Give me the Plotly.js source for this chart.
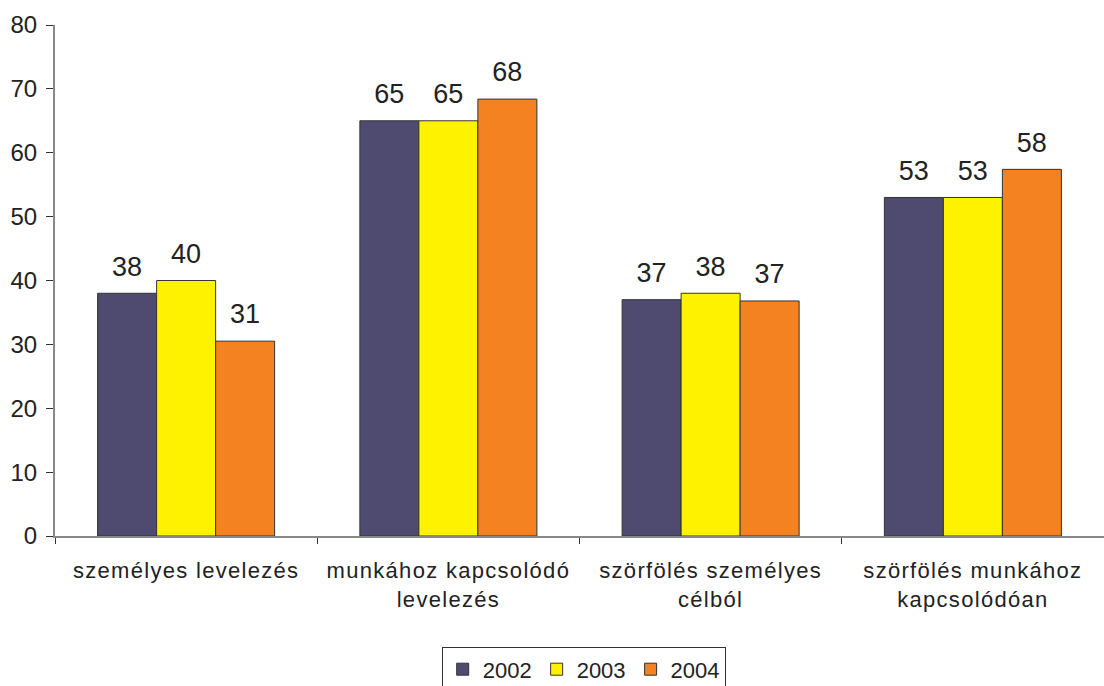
<!DOCTYPE html>
<html><head><meta charset="utf-8">
<script src="https://cdn.plot.ly/plotly-3.0.1.min.js"></script>
<style>
html,body{margin:0;padding:0;overflow:hidden;background:#fff;}
#chart .xtick text{letter-spacing:1.3px;}
</style>
</head><body>
<div id="chart" style="width:1104px;height:686px;"></div>
<script>
const categories = ["személyes levelezés", "munkához kapcsolódó<br>levelezés", "szörfölés személyes<br>célból", "szörfölés munkához<br>kapcsolódóan"];
const years = ["2002", "2003", "2004"];
const values2002 = [38, 65, 37, 53];
const values2003 = [40, 65, 38, 53];
const values2004 = [30.5, 68.4, 36.8, 57.4];
const labels2002 = ["38", "65", "37", "53"];
const labels2003 = ["40", "65", "38", "53"];
const labels2004 = ["31", "68", "37", "58"];
const colors = ["#4f4a70", "#fff200", "#f58220"];

const series = [values2002, values2003, values2004];
const labels = [labels2002, labels2003, labels2004];

const traces = [];
series.forEach((vals, i) => {
  traces.push({
    type: "bar", name: years[i], x: categories, y: vals,
    offsetgroup: String(i), alignmentgroup: "a",
    marker: {color: colors[i], line: {color: "#333333", width: 1}},
    hoverinfo: "skip"
  });
});
series.forEach((vals, i) => {
  traces.push({
    type: "scatter", mode: "markers+text", x: categories, y: vals,
    text: labels[i], textposition: "top center",
    offsetgroup: String(i), alignmentgroup: "a",
    marker: {size: 16, opacity: 0},
    textfont: {family: "Liberation Sans, Arial, sans-serif", size: 27, color: "#222"},
    showlegend: false, hoverinfo: "skip", cliponaxis: false
  });
});

const layout = {
  width: 1104, height: 686,
  margin: {l: 55, r: 0, t: 25, b: 150, autoexpand: false},
  paper_bgcolor: "#fff", plot_bgcolor: "#fff",
  barmode: "group", scattermode: "group",
  bargap: 0.325, bargroupgap: 0,
  font: {family: "Liberation Sans, Arial, sans-serif", color: "#222"},
  showlegend: true,
  legend: {orientation: "h", x: 0.504, xanchor: "center", y: -0.218, yanchor: "top",
    bordercolor: "#333", borderwidth: 1, font: {size: 22, color: "#222"},
    traceorder: "normal", itemwidth: 30},
  xaxis: {type: "category", showline: true, linecolor: "#888", linewidth: 2, automargin: false,
    ticks: "outside", tickson: "boundaries", ticklen: 6, tickcolor: "#333",
    ticklabelstandoff: 14,
    tickfont: {size: 22, color: "#222"}, showgrid: false, zeroline: false, fixedrange: true},
  yaxis: {range: [0, 80], dtick: 10, showline: true, linecolor: "#888", linewidth: 2, automargin: false,
    ticks: "outside", ticklen: 7, tickcolor: "#333", showgrid: false, zeroline: false,
    ticklabelstandoff: 4,
    tickfont: {size: 24, color: "#222"}, fixedrange: true}
};
Plotly.newPlot("chart", traces, layout, {staticPlot: true, displayModeBar: false});
</script>
</body></html>
